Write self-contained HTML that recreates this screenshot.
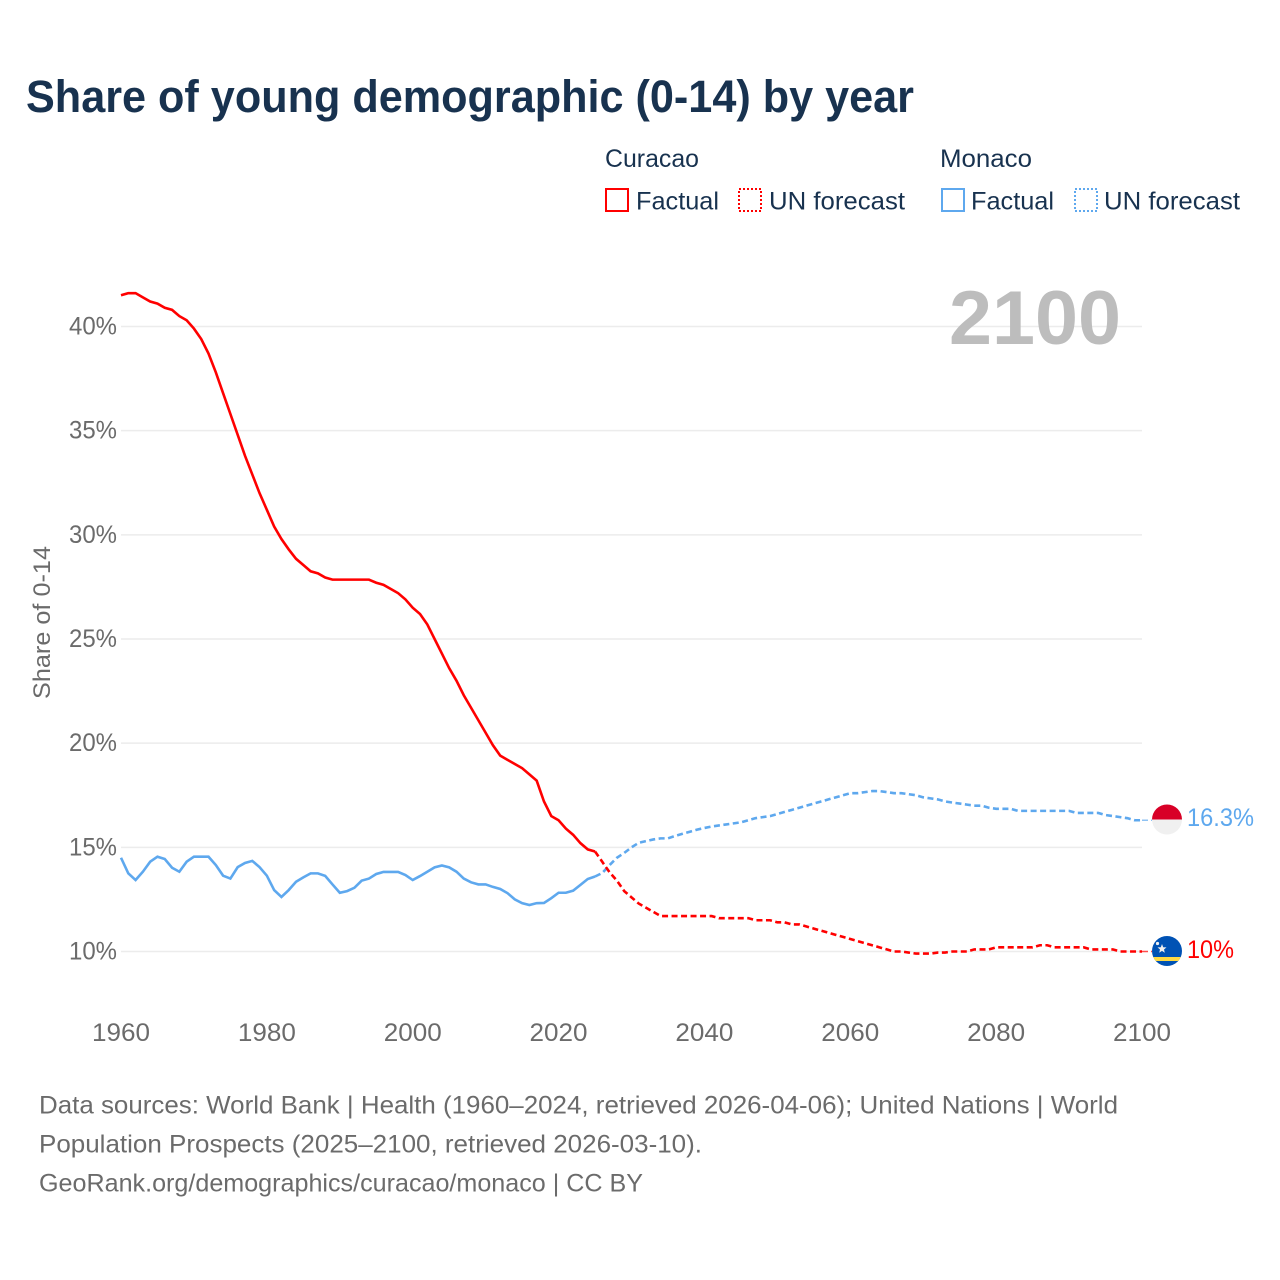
<!DOCTYPE html>
<html>
<head>
<meta charset="utf-8">
<title>Share of young demographic (0-14) by year</title>
<style>
html,body{margin:0;padding:0;background:#fff;}
svg{display:block;}
text{font-family:"Liberation Sans",sans-serif;}
</style>
</head>
<body>
<svg id="chart" width="1280" height="1280" viewBox="0 0 1280 1280" xmlns="http://www.w3.org/2000/svg">
<defs>
<clipPath id="flag-clip-mc"><circle cx="1167" cy="819.5" r="15"/></clipPath>
<clipPath id="flag-clip-cw"><circle cx="1167" cy="951" r="15"/></clipPath>
</defs>
<text x="26" y="112" font-size="45" font-weight="700" fill="#18324f" textLength="888" lengthAdjust="spacingAndGlyphs">Share of young demographic (0-14) by year</text>

<g>
<text x="605" y="167" font-size="25" fill="#18324f" textLength="94" lengthAdjust="spacingAndGlyphs">Curacao</text>
<text x="940" y="167" font-size="25" fill="#18324f" textLength="92" lengthAdjust="spacingAndGlyphs">Monaco</text>
<rect x="606" y="189" width="22" height="22" fill="none" stroke="#ff0000" stroke-width="2"/>
<text x="636" y="209.5" font-size="25" fill="#18324f" textLength="83" lengthAdjust="spacingAndGlyphs">Factual</text>
<rect x="739" y="189" width="22" height="22" fill="none" stroke="#ff0000" stroke-width="2" stroke-dasharray="2 2"/>
<text x="769" y="209.5" font-size="25" fill="#18324f" textLength="136" lengthAdjust="spacingAndGlyphs">UN forecast</text>
<rect x="942" y="189" width="22" height="22" fill="none" stroke="#5ea8ee" stroke-width="2"/>
<text x="971" y="209.5" font-size="25" fill="#18324f" textLength="83" lengthAdjust="spacingAndGlyphs">Factual</text>
<rect x="1075" y="189" width="22" height="22" fill="none" stroke="#5ea8ee" stroke-width="2" stroke-dasharray="2 2"/>
<text x="1104" y="209.5" font-size="25" fill="#18324f" textLength="136" lengthAdjust="spacingAndGlyphs">UN forecast</text>
</g>

<g id="grid"></g>
<text x="949" y="344" font-size="76" font-weight="700" fill="#bdbdbd" textLength="172" lengthAdjust="spacingAndGlyphs">2100</text>
<g id="ylabels"></g>
<g id="xlabels"></g>
<text transform="translate(50 699) rotate(-90)" font-size="24" fill="#6b6b6b" textLength="153" lengthAdjust="spacingAndGlyphs">Share of 0-14</text>

<g id="series"></g>

<g clip-path="url(#flag-clip-mc)">
<rect x="1152" y="804" width="30" height="15.5" fill="#d80027"/>
<rect x="1152" y="819.5" width="30" height="16" fill="#f0f0f0"/>
</g>
<g clip-path="url(#flag-clip-cw)">
<rect x="1152" y="935" width="30" height="32" fill="#0052b4"/>
<rect x="1152" y="957" width="30" height="4" fill="#ffda44"/>
<polygon points="1162,944 1163.2,947.2 1166.5,947.4 1164,949.5 1164.8,952.7 1162,950.9 1159.2,952.7 1160,949.5 1157.5,947.4 1160.8,947.2" fill="#f0f0f0"/>
<circle cx="1157.5" cy="943.5" r="1.6" fill="#f0f0f0"/>
</g>
<text x="1187" y="826" font-size="25" fill="#5ea8ee" textLength="67" lengthAdjust="spacingAndGlyphs">16.3%</text>
<text x="1187" y="958" font-size="25" fill="#ff0000" textLength="47" lengthAdjust="spacingAndGlyphs">10%</text>

<g fill="#6b6b6b" font-size="25">
<text x="39" y="1113.5" textLength="1079" lengthAdjust="spacingAndGlyphs">Data sources: World Bank | Health (1960–2024, retrieved 2026-04-06); United Nations | World</text>
<text x="39" y="1152.5" textLength="663" lengthAdjust="spacingAndGlyphs">Population Prospects (2025–2100, retrieved 2026-03-10).</text>
<text x="39" y="1191.5" textLength="604" lengthAdjust="spacingAndGlyphs">GeoRank.org/demographics/curacao/monaco | CC BY</text>
</g>
</svg>
<script>
var firstYear = 1960;
var factualEndYear = 2025;
var yTicks = [10, 15, 20, 25, 30, 35, 40];
var xTicks = [1960, 1980, 2000, 2020, 2040, 2060, 2080, 2100];
var curacaoValues = [
41.5,41.6,41.6,41.4,41.2,41.1,40.9,40.8,40.5,40.3,
39.9,39.4,38.7,37.8,36.8,35.8,34.8,33.8,32.9,32.0,
31.2,30.4,29.8,29.3,28.85,28.55,28.25,28.15,27.95,27.85,
27.85,27.85,27.85,27.85,27.85,27.7,27.6,27.4,27.2,26.9,
26.5,26.2,25.7,25.0,24.3,23.6,23.0,22.3,21.7,21.1,
20.5,19.9,19.4,19.2,19.0,18.8,18.5,18.2,17.2,16.5,
16.3,15.9,15.6,15.2,14.9,14.8,14.3,13.8,13.4,12.9,
12.6,12.3,12.1,11.9,11.7,11.7,11.7,11.7,11.7,11.7,
11.7,11.7,11.6,11.6,11.6,11.6,11.6,11.5,11.5,11.5,
11.4,11.4,11.3,11.3,11.2,11.1,11.0,10.9,10.8,10.7,
10.6,10.5,10.4,10.3,10.2,10.1,10.0,10.0,9.95,9.9,
9.9,9.9,9.95,9.95,10.0,10.0,10.0,10.1,10.1,10.1,
10.2,10.2,10.2,10.2,10.2,10.2,10.3,10.3,10.2,10.2,
10.2,10.2,10.2,10.1,10.1,10.1,10.1,10.0,10.0,10.0,10.0];
var monacoValues = [
14.5,13.75,13.43,13.83,14.31,14.55,14.44,14.02,13.83,14.31,
14.55,14.55,14.55,14.15,13.64,13.5,14.05,14.25,14.35,14.05,
13.64,12.95,12.62,12.95,13.35,13.56,13.75,13.75,13.63,13.22,
12.82,12.9,13.06,13.4,13.5,13.72,13.82,13.82,13.82,13.67,
13.43,13.62,13.83,14.04,14.13,14.04,13.83,13.5,13.32,13.22,
13.22,13.1,13.0,12.8,12.5,12.32,12.23,12.32,12.33,12.56,
12.82,12.82,12.92,13.2,13.48,13.6,13.77,14.15,14.5,14.73,
15.0,15.22,15.3,15.38,15.43,15.43,15.55,15.65,15.75,15.85,
15.93,16.0,16.05,16.1,16.15,16.2,16.3,16.4,16.45,16.5,
16.6,16.7,16.8,16.9,17.0,17.1,17.2,17.3,17.4,17.5,
17.6,17.6,17.65,17.7,17.7,17.65,17.6,17.6,17.55,17.5,
17.4,17.35,17.3,17.2,17.15,17.1,17.05,17.0,17.0,16.9,
16.85,16.85,16.85,16.75,16.75,16.75,16.75,16.75,16.75,16.75,
16.75,16.65,16.65,16.65,16.65,16.55,16.5,16.45,16.4,16.3,16.3];

var NS = 'http://www.w3.org/2000/svg';
function xScale(year) { return 121 + (year - 1960) * (1142 - 121) / 140; }
function yScale(v) { return 951.5 - (v - 10) * (951.5 - 326.5) / 30; }
function make(tag, parent) {
  var el = document.createElementNS(NS, tag);
  parent.appendChild(el);
  return el;
}
function linePath(values, startIdx, endIdx) {
  var d = '';
  for (var i = startIdx; i <= endIdx && i < values.length; i++) {
    d += (d ? 'L' : 'M') + xScale(firstYear + i).toFixed(2) + ' ' + yScale(values[i]).toFixed(2);
  }
  return d;
}
var gridG = document.getElementById('grid');
var yG = document.getElementById('ylabels');
var xG = document.getElementById('xlabels');
var seriesG = document.getElementById('series');

yTicks.forEach(function (t) {
  var ln = make('line', gridG);
  
  
  ln.setAttribute('x1', 121);
  ln.setAttribute('x2', 1142);
  ln.setAttribute('y1', yScale(t));
  ln.setAttribute('y2', yScale(t));
  ln.setAttribute('stroke', '#ececec');
  ln.setAttribute('stroke-width', '1.5');
  var tx = make('text', yG);
  
  
  tx.setAttribute('x', 69);
  tx.setAttribute('y', yScale(t) + 8);
  tx.setAttribute('font-size', '25');
  tx.setAttribute('fill', '#6b6b6b');
  tx.setAttribute('textLength', '48');
  tx.setAttribute('lengthAdjust', 'spacingAndGlyphs');
  tx.textContent = t + '%';
});
xTicks.forEach(function (t) {
  var tx = make('text', xG);
  
  
  tx.setAttribute('x', xScale(t) - 29);
  tx.setAttribute('y', 1041);
  tx.setAttribute('font-size', '25');
  tx.setAttribute('fill', '#6b6b6b');
  tx.setAttribute('textLength', '58');
  tx.setAttribute('lengthAdjust', 'spacingAndGlyphs');
  tx.textContent = String(t);
});

var splitIdx = factualEndYear - firstYear;

var monacoFactual = make('path', seriesG);


monacoFactual.setAttribute('d', linePath(monacoValues, 0, splitIdx));
monacoFactual.setAttribute('fill', 'none');
monacoFactual.setAttribute('stroke', '#5ea8ee');
monacoFactual.setAttribute('stroke-width', '2.6');

var monacoForecast = make('path', seriesG);


monacoForecast.setAttribute('d', linePath(monacoValues, splitIdx, monacoValues.length - 1));
monacoForecast.setAttribute('fill', 'none');
monacoForecast.setAttribute('stroke', '#5ea8ee');
monacoForecast.setAttribute('stroke-width', '2.6');
monacoForecast.setAttribute('stroke-dasharray', '6 3.5');

var curacaoFactual = make('path', seriesG);


curacaoFactual.setAttribute('d', linePath(curacaoValues, 0, splitIdx));
curacaoFactual.setAttribute('fill', 'none');
curacaoFactual.setAttribute('stroke', '#ff0000');
curacaoFactual.setAttribute('stroke-width', '2.6');

var curacaoForecast = make('path', seriesG);


curacaoForecast.setAttribute('d', linePath(curacaoValues, splitIdx, curacaoValues.length - 1));
curacaoForecast.setAttribute('fill', 'none');
curacaoForecast.setAttribute('stroke', '#ff0000');
curacaoForecast.setAttribute('stroke-width', '2.6');
curacaoForecast.setAttribute('stroke-dasharray', '6 3.5');

var connectorMonaco = make('line', seriesG);


connectorMonaco.setAttribute('x1', xScale(2100));
connectorMonaco.setAttribute('x2', 1152);
connectorMonaco.setAttribute('y1', yScale(monacoValues[monacoValues.length - 1]));
connectorMonaco.setAttribute('y2', yScale(monacoValues[monacoValues.length - 1]));
connectorMonaco.setAttribute('stroke', '#5ea8ee');
connectorMonaco.setAttribute('stroke-width', '1.5');
connectorMonaco.setAttribute('stroke-opacity', '0.7');
connectorMonaco.setAttribute('stroke-dasharray', '6 3');

var connectorCuracao = make('line', seriesG);


connectorCuracao.setAttribute('x1', xScale(2100));
connectorCuracao.setAttribute('x2', 1152);
connectorCuracao.setAttribute('y1', yScale(curacaoValues[curacaoValues.length - 1]));
connectorCuracao.setAttribute('y2', yScale(curacaoValues[curacaoValues.length - 1]));
connectorCuracao.setAttribute('stroke', '#ff0000');
connectorCuracao.setAttribute('stroke-width', '1.5');
connectorCuracao.setAttribute('stroke-opacity', '0.7');
connectorCuracao.setAttribute('stroke-dasharray', '6 3');
</script>
</body>
</html>
